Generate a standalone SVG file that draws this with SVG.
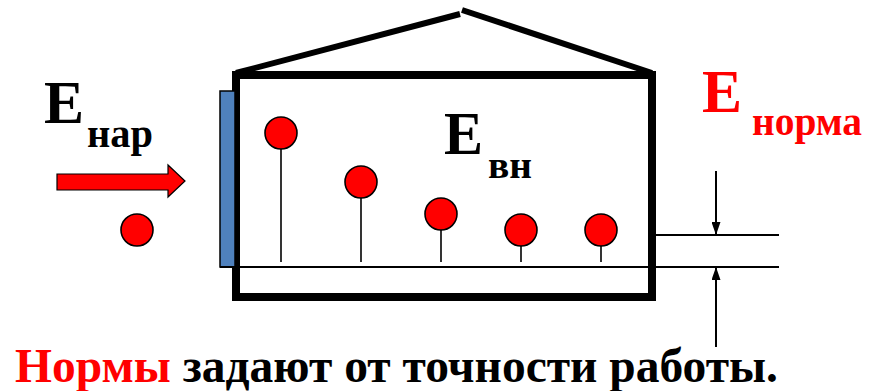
<svg xmlns="http://www.w3.org/2000/svg" width="877" height="391" viewBox="0 0 877 391">
<style>
.blk{fill:#000}
.red{fill:#ff0000}
.wall{stroke:#000;stroke-width:8;fill:none;stroke-linecap:square}
.roof{stroke:#000;stroke-width:6;fill:none}
.thin{stroke:#000;stroke-width:2;fill:none}
.stem{stroke:#000;stroke-width:1.6}
.ball{fill:#ff0000;stroke:#000;stroke-width:1.6}
</style>
<defs>
<marker id="ah" viewBox="0 0 13 9" refX="13" refY="4.5" markerWidth="13" markerHeight="9" markerUnits="userSpaceOnUse" orient="auto">
<path d="M0,0 L13,4.5 L0,9 Z" fill="#000"/>
</marker>
</defs>
<g id="house">
<line class="roof" x1="236" y1="73" x2="460" y2="14"/>
<line class="roof" x1="462" y1="10" x2="652" y2="73"/>
<rect class="wall" x="236" y="75" width="416" height="222"/>
</g>
<g id="panel">
<rect x="220" y="91" width="15" height="176" fill="#4F81BD" stroke="#000" stroke-width="1.5"/>
</g>
<g id="connectors">
<line class="thin" x1="220" y1="267" x2="779" y2="267"/>
<line class="thin" x1="655" y1="235" x2="779" y2="235"/>
<line class="thin" x1="716" y1="171" x2="716" y2="235" marker-end="url(#ah)"/>
<line class="thin" x1="716" y1="347" x2="716" y2="267" marker-end="url(#ah)"/>
</g>
<g id="pins">
<line class="stem" x1="281" y1="149" x2="281" y2="262"/>
<circle class="ball" cx="281" cy="133" r="16"/>
<line class="stem" x1="361" y1="198" x2="361" y2="262"/>
<circle class="ball" cx="361" cy="182" r="16"/>
<line class="stem" x1="441" y1="230" x2="441" y2="262"/>
<circle class="ball" cx="441" cy="214" r="16"/>
<line class="stem" x1="521" y1="246" x2="521" y2="262"/>
<circle class="ball" cx="521" cy="230" r="16"/>
<line class="stem" x1="601" y1="246" x2="601" y2="262"/>
<circle class="ball" cx="601" cy="230" r="16"/>
</g>
<g id="outside-ball">
<circle class="ball" cx="137" cy="230" r="16"/>
</g>
<g id="red-arrow">
<path d="M57,174 H168 V165 L185,181 L168,197 V190 H57 Z" fill="#ff0000" stroke="#000" stroke-width="1.2"/>
</g>
<g font-family="Times New Roman, Liberation Serif, DejaVu Serif, serif" font-weight="bold">
<g id="label-nar">
<text class="blk" x="44" y="123" font-size="61" textLength="40" lengthAdjust="spacingAndGlyphs">E</text>
<text class="blk" x="87" y="147" font-size="40" textLength="66" lengthAdjust="spacingAndGlyphs">нар</text>
</g>
<g id="label-vn">
<text class="blk" x="444" y="154" font-size="62" textLength="39" lengthAdjust="spacingAndGlyphs">E</text>
<text class="blk" x="488" y="178" font-size="38" textLength="44" lengthAdjust="spacingAndGlyphs">вн</text>
</g>
<g id="label-norma">
<text class="red" x="702" y="112" font-size="62" textLength="40" lengthAdjust="spacingAndGlyphs">E</text>
<text class="red" x="752" y="135" font-size="40" textLength="110" lengthAdjust="spacingAndGlyphs">норма</text>
</g>
<g id="caption">
<text x="15" y="382" font-size="48" textLength="763" lengthAdjust="spacingAndGlyphs"><tspan class="red">Нормы</tspan><tspan class="blk"> задают от точности работы.</tspan></text>
</g>
</g>
</svg>
